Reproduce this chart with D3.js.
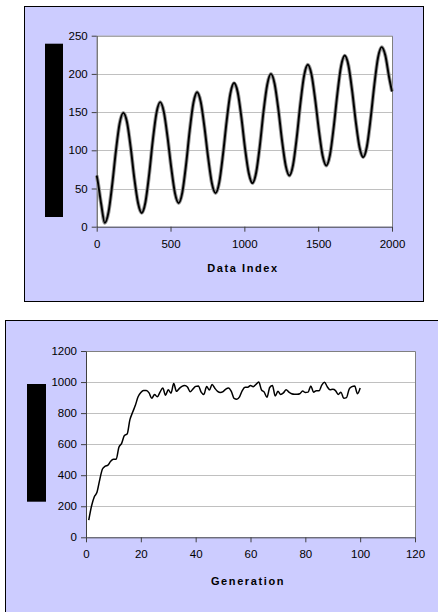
<!DOCTYPE html>
<html><head><meta charset="utf-8">
<script src="https://cdn.jsdelivr.net/npm/d3@7"></script>
<style>
html,body{margin:0;padding:0;background:#fff;}
svg{display:block;}
text{font-family:"Liberation Sans",Arial,sans-serif;fill:#000;}
</style></head>
<body>
<svg id="c" width="438" height="612"></svg>
<script>
// ---------- Chart 1 data ----------
const dataIndex = [0,5,30,55,80,105,130,155,180,205,230,255,280,305,330,355,380,405,430,455,480,505,530,555,580,605,630,655,680,705,730,755,780,805,830,855,880,905,930,955,980,1005,1030,1055,1080,1105,1130,1155,1180,1205,1230,1255,1280,1305,1330,1355,1380,1405,1430,1455,1480,1505,1530,1555,1580,1605,1630,1655,1680,1705,1730,1755,1780,1805,1830,1855,1880,1905,1930,1955,1980,2000];
const dataValues = [67,62,30,5,19,55,99,135,149,137,104,63,31,18,32,68,113,149,163,150,117,77,44,31,45,81,126,162,176,163,130,90,57,44,58,94,138,174,188,176,143,102,70,57,71,106,151,186,200,187,154,113,80,67,81,117,162,198,212,199,166,126,93,80,94,130,174,210,224,211,178,137,104,91,105,141,185,221,235,224,196,177];
const xTicks1 = [0,500,1000,1500,2000];
const yTicks1 = [0,50,100,150,200,250];
const xTitle1 = "Data Index";

// ---------- Chart 2 data ----------
const generations = d3.range(1,101);
const fitness = [110,200,260,290,370,440,458,465,490,502,502,580,605,655,665,756,805,850,905,932,
945,945,930,895,920,905,935,962,915,950,928,990,940,958,972,977,968,938,955,972,
975,935,920,972,948,985,960,940,932,938,955,962,940,895,890,905,945,966,966,978,
970,985,1000,950,935,902,965,978,910,940,920,930,950,935,925,922,922,925,942,933,
935,975,935,944,944,980,998,970,950,953,945,920,935,896,900,955,970,975,925,962];
const xTicks2 = [0,20,40,60,80,100,120];
const yTicks2 = [0,200,400,600,800,1000,1200];
const xTitle2 = "Generation";

const svg = d3.select("#c");
const fmt = d3.format("d");

function panel(o){
  svg.append("rect").attr("x",o.box[0]+0.5).attr("y",o.box[1]+0.5)
     .attr("width",o.box[2]).attr("height",o.box[3])
     .attr("fill","#ccccff").attr("stroke","#000").attr("stroke-width",1);
  const x = d3.scaleLinear().domain(o.xd).range([o.L,o.R]);
  const y = d3.scaleLinear().domain(o.yd).range([o.B,o.T]);
  svg.append("rect").attr("x",o.L).attr("y",o.T).attr("width",o.R-o.L).attr("height",o.B-o.T)
     .attr("fill","#fff");
  svg.append("g").selectAll("line").data(o.yt.filter(d=>d!==o.yd[0]&&d!==o.yd[1])).join("line")
     .attr("x1",o.L).attr("x2",o.R).attr("y1",d=>Math.round(y(d))+0.5).attr("y2",d=>Math.round(y(d))+0.5)
     .attr("stroke","#c0c0c0").attr("stroke-width",1);
  svg.append("path").attr("d",`M${o.L},${o.T+0.5}H${o.R+0.5}V${o.B}`)
     .attr("fill","none").attr("stroke","#808080").attr("stroke-width",1);
  const ya = svg.append("g").attr("transform",`translate(${o.L},0)`)
     .call(d3.axisLeft(y).tickValues(o.yt).tickFormat(fmt).tickSize(5).tickSizeOuter(0).tickPadding(4));
  const xa = svg.append("g").attr("transform",`translate(0,${o.B})`)
     .call(d3.axisBottom(x).tickValues(o.xt).tickFormat(fmt).tickSize(5).tickSizeOuter(0).tickPadding(8));
  [ya,xa].forEach(a=>{
    a.select(".domain").attr("stroke","#404040");
    a.selectAll(".tick line").attr("stroke","#404040");
    a.selectAll("text").attr("font-family","'Liberation Sans',Arial,sans-serif").attr("font-size","11.5px").attr("fill","#000");
  });
  svg.append("text").attr("x",o.titleX).attr("y",o.titleY).attr("text-anchor","middle")
     .attr("font-size","11px").attr("font-weight","bold").attr("letter-spacing","1.6px")
     .text(o.title);
  svg.append("rect").attr("x",o.blk[0]).attr("y",o.blk[1]).attr("width",o.blk[2]).attr("height",o.blk[3]).attr("fill","#000");
  return {x,y};
}

// Chart 1
const p1 = {box:[24,6,399,295], L:96.7,R:392,T:35.7,B:226.7, xd:[0,2000], yd:[0,250], xt:xTicks1, yt:yTicks1,
  title:xTitle1, titleX:243, titleY:272, blk:[45,43.7,18,173.3]};
const s1 = panel(p1);
const pts1 = dataIndex.map((d,i)=>[d,dataValues[i]]);
const line1 = d3.line().x(d=>s1.x(d[0])).y(d=>s1.y(d[1])).curve(d3.curveMonotoneX);
svg.append("path").attr("d",line1(pts1)).attr("fill","none").attr("stroke","#999").attr("stroke-width",3.8).attr("stroke-linejoin","round");
svg.append("path").attr("d",line1(pts1)).attr("fill","none").attr("stroke","#000").attr("stroke-width",1.9).attr("stroke-linejoin","round");

// Chart 2
const p2 = {box:[5,320,440,300], L:86,R:415,T:351,B:537.3, xd:[0,120], yd:[0,1200], xt:xTicks2, yt:yTicks2,
  title:xTitle2, titleX:248, titleY:585, blk:[27,384,19,117.7]};
const s2 = panel(p2);
const pts2 = generations.map((g,i)=>[g,fitness[i]]);
const line2 = d3.line().x(d=>s2.x(d[0])).y(d=>s2.y(d[1])).curve(d3.curveMonotoneX);
svg.append("path").attr("d",line2(pts2)).attr("fill","none").attr("stroke","#000").attr("stroke-width",1.5).attr("stroke-linejoin","round");
</script>
</body></html>
